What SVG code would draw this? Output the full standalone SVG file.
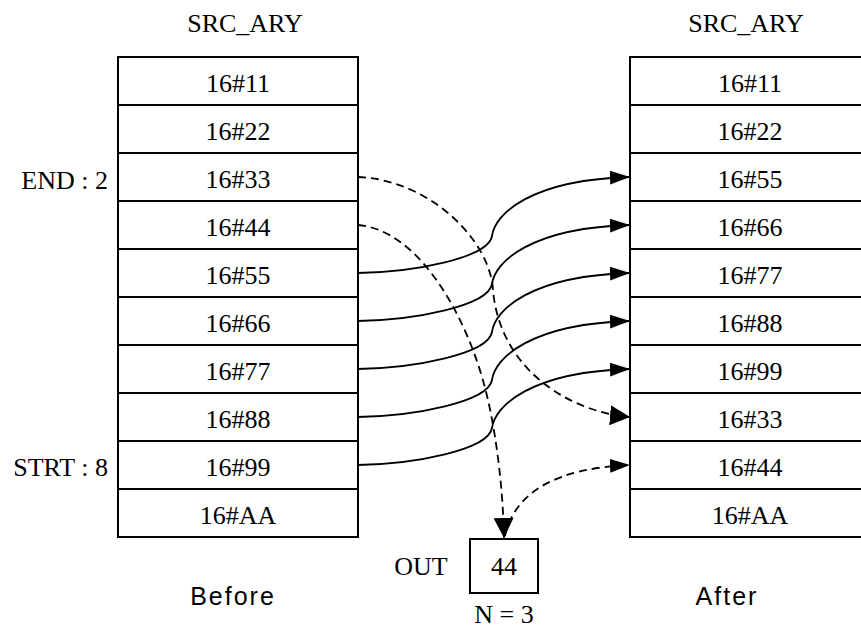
<svg xmlns="http://www.w3.org/2000/svg" width="861" height="632" viewBox="0 0 861 632">
<style>
.cell{fill:#fff;stroke:#000;stroke-width:2}
.t{font-family:"Liberation Serif","Times New Roman",serif;font-size:26px;fill:#000;text-anchor:middle}
.lbl{font-family:"Liberation Serif","Times New Roman",serif;font-size:26px;fill:#000;text-anchor:end}
.s{font-family:"Liberation Sans",Arial,sans-serif;font-size:25px;letter-spacing:2px;fill:#000;text-anchor:middle}
.c{fill:none;stroke:#000;stroke-width:1.8}
.d{fill:none;stroke:#000;stroke-width:1.8;stroke-dasharray:8,5}
</style>
<defs>
<marker id="ah" markerUnits="userSpaceOnUse" markerWidth="20" markerHeight="14" viewBox="0 0 20 14" refX="20" refY="7" orient="auto"><path d="M0,0 L20,7 L0,14 z" fill="#000"/></marker>
<marker id="ahL" markerUnits="userSpaceOnUse" markerWidth="20" markerHeight="20" viewBox="0 0 20 20" refX="20" refY="10" orient="auto"><path d="M0,0 L20,10 L0,20 z" fill="#000"/></marker>
</defs>
<rect width="861" height="632" fill="#fff"/>
<text class="t" x="245" y="32">SRC_ARY</text>
<text class="t" x="746" y="32">SRC_ARY</text>
<text class="lbl" x="108" y="189">END : 2</text>
<text class="lbl" x="108" y="476">STRT : 8</text>
<g id="before">
<g id="b0"><rect class="cell" x="118" y="57" width="240" height="48"/><text class="t" x="238" y="92">16#11</text></g>
<g id="b1"><rect class="cell" x="118" y="105" width="240" height="48"/><text class="t" x="238" y="140">16#22</text></g>
<g id="b2"><rect class="cell" x="118" y="153" width="240" height="48"/><text class="t" x="238" y="188">16#33</text></g>
<g id="b3"><rect class="cell" x="118" y="201" width="240" height="48"/><text class="t" x="238" y="236">16#44</text></g>
<g id="b4"><rect class="cell" x="118" y="249" width="240" height="48"/><text class="t" x="238" y="284">16#55</text></g>
<g id="b5"><rect class="cell" x="118" y="297" width="240" height="48"/><text class="t" x="238" y="332">16#66</text></g>
<g id="b6"><rect class="cell" x="118" y="345" width="240" height="48"/><text class="t" x="238" y="380">16#77</text></g>
<g id="b7"><rect class="cell" x="118" y="393" width="240" height="48"/><text class="t" x="238" y="428">16#88</text></g>
<g id="b8"><rect class="cell" x="118" y="441" width="240" height="48"/><text class="t" x="238" y="476">16#99</text></g>
<g id="b9"><rect class="cell" x="118" y="489" width="240" height="48"/><text class="t" x="238" y="524">16#AA</text></g>
</g>
<g id="after">
<g id="a0"><rect class="cell" x="630" y="57" width="240" height="48"/><text class="t" x="750" y="92">16#11</text></g>
<g id="a1"><rect class="cell" x="630" y="105" width="240" height="48"/><text class="t" x="750" y="140">16#22</text></g>
<g id="a2"><rect class="cell" x="630" y="153" width="240" height="48"/><text class="t" x="750" y="188">16#55</text></g>
<g id="a3"><rect class="cell" x="630" y="201" width="240" height="48"/><text class="t" x="750" y="236">16#66</text></g>
<g id="a4"><rect class="cell" x="630" y="249" width="240" height="48"/><text class="t" x="750" y="284">16#77</text></g>
<g id="a5"><rect class="cell" x="630" y="297" width="240" height="48"/><text class="t" x="750" y="332">16#88</text></g>
<g id="a6"><rect class="cell" x="630" y="345" width="240" height="48"/><text class="t" x="750" y="380">16#99</text></g>
<g id="a7"><rect class="cell" x="630" y="393" width="240" height="48"/><text class="t" x="750" y="428">16#33</text></g>
<g id="a8"><rect class="cell" x="630" y="441" width="240" height="48"/><text class="t" x="750" y="476">16#44</text></g>
<g id="a9"><rect class="cell" x="630" y="489" width="240" height="48"/><text class="t" x="750" y="524">16#AA</text></g>
</g>
<g id="out">
<rect class="cell" x="470" y="539" width="68" height="54"/>
<text class="t" x="504" y="575">44</text>
<text class="t" x="421" y="575">OUT</text>
<text class="t" x="504" y="623">N = 3</text>
</g>
<text class="s" x="233" y="605">Before</text>
<text class="s" x="727" y="605">After</text>
<g id="connectors">
<path class="c" marker-end="url(#ah)" d="M358,273 C415,272 488,258 492,236 C495,214 530,180 630,177"/>
<path class="c" marker-end="url(#ah)" d="M358,321 C415,320 488,306 492,284 C495,262 530,228 630,225"/>
<path class="c" marker-end="url(#ah)" d="M358,369 C415,368 488,354 492,332 C495,310 530,276 630,273"/>
<path class="c" marker-end="url(#ah)" d="M358,417 C415,416 488,402 492,380 C495,358 530,324 630,321"/>
<path class="c" marker-end="url(#ah)" d="M358,465 C415,464 488,450 492,428 C495,406 530,372 630,369"/>
<path class="d" marker-end="url(#ahL)" d="M358,177 C430,180 490,240 493,290 C500,370 570,412 630,417"/>
<path class="d" marker-end="url(#ahL)" d="M358,225 C420,230 470,320 488,400 C497,440 503,490 504,538"/>
<path class="d" marker-end="url(#ah)" d="M505,536 C515,490 560,468 630,465"/>
</g>
</svg>
